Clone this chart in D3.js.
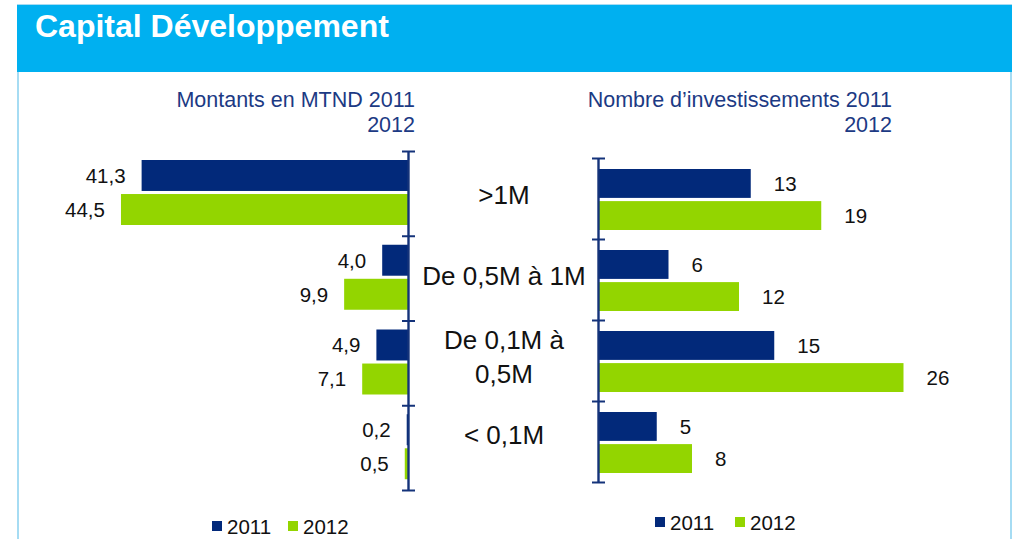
<!DOCTYPE html>
<html>
<head>
<meta charset="UTF-8">
<title>Capital Développement</title>
<script src="https://d3js.org/d3.v7.min.js"></script>
<style>
	body { margin: 0; background: #ffffff; }
	svg { display: block; font-family: "Liberation Sans", Arial, sans-serif; }
</style>
</head>
<body>
<div id="chart"></div>
<script>
// data
var categories = [">1M", "De 0,5M à 1M", "De 0,1M à 0,5M", "< 0,1M"];
var catLines = [[">1M"], ["De 0,5M à 1M"], ["De 0,1M à", "0,5M"], ["< 0,1M"]];
var years = ["2011", "2012"];
var montants2011 = [41.3, 4.0, 4.9, 0.2];
var montants2012 = [44.5, 9.9, 7.1, 0.5];
var nombre2011 = [13, 6, 15, 5];
var nombre2012 = [19, 12, 26, 8];

var navy = "#02297a";
var green = "#93d500";
var axisColor = "#14337a";
var headColor = "#1c3a84";
var colors = {"2011": navy, "2012": green};

var W = 1012, H = 539;
var svg = d3.select("#chart").append("svg")
	.attr("width", W)
	.attr("height", H);

// panel + title band
svg.append("rect").attr("x", 18).attr("y", 5).attr("width", W - 19).attr("height", H)
	.attr("fill", "#ffffff").attr("stroke", "#a6dcf3").attr("stroke-width", 2);
svg.append("rect").attr("x", 17).attr("y", 5).attr("width", W - 17).attr("height", 67)
	.attr("fill", "#00b0f0");
svg.append("text").attr("x", 35).attr("y", 37)
	.attr("fill", "#ffffff").attr("font-size", "32px").attr("font-weight", "bold")
	.text("Capital Développement");

function fmt(v) { return d3.format(".1f")(v).replace(".", ","); }

// draws one half (left = amounts, right = counts)
function drawHalf(opt) {
	var g = svg.append("g");
	var y = d3.scaleBand().domain(categories).range(opt.yRange);
	var yIn = d3.scaleBand().domain(years).range(opt.inner).paddingInner(opt.pad);
	var x = d3.scaleLinear().domain([0, opt.max]).range(opt.xRange);
	var rows = [];
	categories.forEach(function(c, i) {
		rows.push({cat: c, year: "2011", v: opt.s2011[i]});
		rows.push({cat: c, year: "2012", v: opt.s2012[i]});
	});

	g.selectAll("rect.bar").data(rows).enter().append("rect")
		.attr("class", "bar")
		.attr("x", function(d) { return Math.min(x(0), x(d.v)); })
		.attr("y", function(d) { return y(d.cat) + yIn(d.year); })
		.attr("width", function(d) { return Math.abs(x(d.v) - x(0)); })
		.attr("height", yIn.bandwidth())
		.attr("fill", function(d) { return colors[d.year]; });

	g.selectAll("text.val").data(rows).enter().append("text")
		.attr("class", "val")
		.attr("x", function(d) { return x(d.v) + opt.labelGap; })
		.attr("y", function(d) { return y(d.cat) + yIn(d.year) + yIn.bandwidth() / 2; })
		.attr("dy", "0.36em")
		.attr("text-anchor", opt.anchor)
		.attr("font-size", "20.5px")
		.attr("fill", "#111")
		.text(function(d) { return opt.fmt(d.v); });

	// axis with ticks on band edges, crossing the line
	var edge = d3.scaleLinear().domain([0, categories.length]).range(opt.yRange);
	var ax = g.append("g")
		.attr("transform", "translate(" + x(0) + ",0)")
		.call(d3.axisLeft(edge).tickValues(d3.range(categories.length + 1)).tickSize(6).tickSizeOuter(0).tickFormat(""));
	ax.select(".domain").attr("stroke", axisColor).attr("stroke-width", 2.4);
	ax.selectAll(".tick line").attr("x1", -6).attr("x2", 7)
		.attr("stroke", axisColor).attr("stroke-width", 2);

	// series header
	var head = g.append("text").attr("text-anchor", "end").attr("fill", headColor).attr("font-size", "21.5px");
	head.append("tspan").attr("x", opt.headX).attr("y", 107).text(opt.head);
	head.append("tspan").attr("x", opt.headX).attr("y", 132).text("2012");

	// legend
	var lg = g.append("g").attr("transform", "translate(" + opt.legX + "," + opt.legY + ")");
	var items = lg.selectAll("g").data(years).enter().append("g")
		.attr("transform", function(d, i) { return "translate(" + (i * opt.legStep) + ",0)"; });
	items.append("rect").attr("x", 0).attr("y", -13).attr("width", 10).attr("height", 10)
		.attr("fill", function(d) { return colors[d]; });
	items.append("text").attr("x", 15).attr("y", 0).attr("font-size", "20.5px").attr("fill", "#111")
		.text(function(d) { return d; });
	return y;
}

drawHalf({
	s2011: montants2011, s2012: montants2012, max: 50,
	xRange: [408, 408 - 50 * 6.45], yRange: [151, 490], inner: [9, 74], pad: 0.09,
	labelGap: -16, anchor: "end", fmt: fmt,
	head: "Montants en MTND 2011", headX: 415, legX: 212, legY: 534, legStep: 76
});

var yR = drawHalf({
	s2011: nombre2011, s2012: nombre2012, max: 30,
	xRange: [598, 598 + 30 * 11.75], yRange: [158, 482], inner: [11, 72], pad: 0.1,
	labelGap: 23, anchor: "start", fmt: function(v) { return v; },
	head: "Nombre d\u2019investissements 2011", headX: 892, legX: 655, legY: 530, legStep: 80
});

// category labels in the middle
var cl = svg.append("g").selectAll("text").data(categories).enter().append("text")
	.attr("text-anchor", "middle")
	.attr("font-size", "26px")
	.attr("fill", "#111")
	.attr("y", function(d, i) {
		var n = catLines[i].length;
		return yR(d) + yR.bandwidth() / 2 - (i === 3 ? 7 : 4) - (n - 1) * 17;
	});
cl.each(function(d, i) {
	var t = d3.select(this);
	catLines[i].forEach(function(line, k) {
		t.append("tspan").attr("x", 504).attr("dy", k === 0 ? "0.35em" : "34px").text(line);
	});
});
</script>
</body>
</html>
